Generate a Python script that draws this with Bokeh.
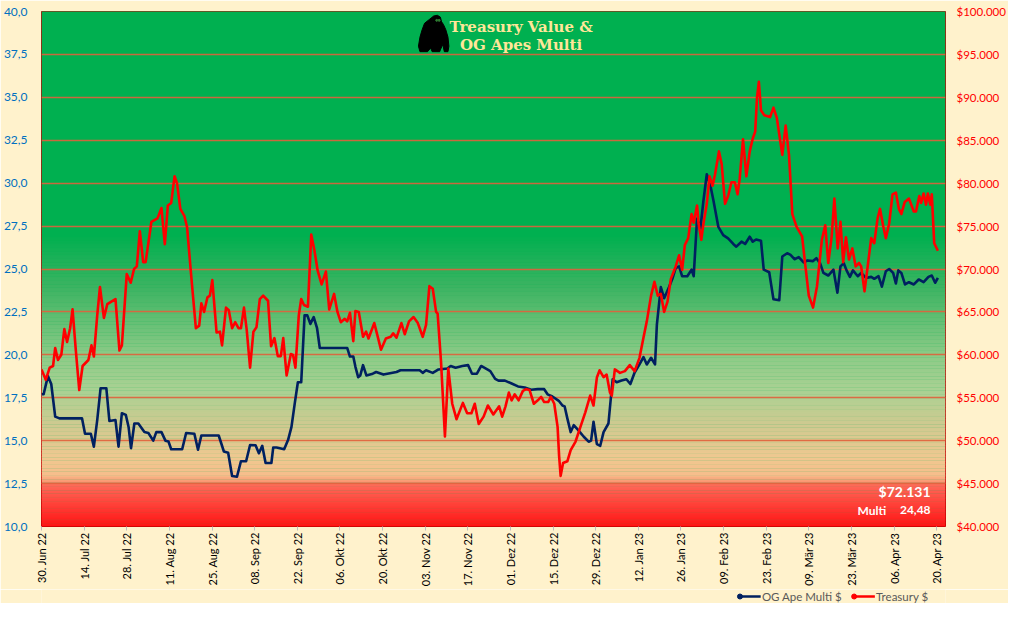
import numpy as np
from bokeh.plotting import figure
from bokeh.layouts import column
from bokeh.models import (Range1d, LinearAxis, FixedTicker, Label,
                          ColumnDataSource)
from bokeh.core.properties import value
from bokeh.embed import file_html
from bokeh.resources import INLINE

# ---------------- data ----------------
# x = days since 30 Jun 2022
tick_days = [0, 14, 28, 42, 56, 70, 84, 98, 112, 126, 140, 154, 168, 182,
             196, 210, 224, 238, 252, 266, 280, 294]
tick_labels = ["30. Jun 22", "14. Jul 22", "28. Jul 22", "11. Aug 22",
               "25. Aug 22", "08. Sep 22", "22. Sep 22", "06. Okt 22",
               "20. Okt 22", "03. Nov 22", "17. Nov 22", "01. Dez 22",
               "15. Dez 22", "29. Dez 22", "12. Jan 23", "26. Jan 23",
               "09. Feb 23", "23. Feb 23", "09. Mär 23", "23. Mär 23",
               "06. Apr 23", "20. Apr 23"]

series_names = ["OG Ape Multi $", "Treasury $"]

multi_day = [0, 0.7, 2.1, 3.2, 4.5, 5.9, 13.3, 14.3, 16.2, 17.2, 18.3, 19.4,
             21.3, 22.3, 24.3, 25.3, 26.4, 27.7, 28.6, 29.4, 30.5, 31.8, 33.8,
             35.1, 36.7, 37.7, 39.4, 40.7, 41.7, 42.6, 46.2, 47.5, 50.2, 51.4,
             52.5, 58.2, 59.9, 61.3, 62.6, 64.2, 65.5, 67.2, 68.5, 70.3, 71.4,
             72.5, 73.6, 75.5, 76.1, 77.2, 79.7, 81.0, 82.1, 83.2, 84.2, 85.3,
             86.4, 87.3, 88.3, 89.4, 90.5, 91.4, 100.4, 101.3, 102.4, 103.1,
             104.0, 104.7, 105.6, 106.7, 108.8, 109.9, 112.3, 116.6, 117.9,
             124.2, 125.2, 126.3, 128.5, 130.4, 133.3, 134.4, 136.0, 138.2,
             140.1, 141.4, 143.0, 144.4, 147.4, 149.0, 150.1, 152.2, 154.4,
             156.5, 158.7, 160.8, 163.0, 165.1, 166.2, 167.8, 170.0, 171.1,
             171.8, 172.7, 173.8, 174.8, 176.5, 178.1, 179.7, 180.5, 181.3,
             182.4, 183.5, 184.6, 186.2, 187.0, 187.6, 188.9, 190.5, 192.1,
             193.4, 194.8, 196.4, 197.7, 198.8, 200.2, 201.5, 202.1, 203.4,
             204.5, 206.1, 207.2, 208.3, 209.4, 210.4, 212.1, 213.5, 214.2,
             215.3, 216.4, 217.4, 218.5, 219.6, 220.7, 222.3, 223.9, 225.5,
             227.2, 228.2, 229.9, 231.1, 232.6, 233.6, 234.7, 236.3, 237.2,
             239.0, 240.4, 242.3, 243.3, 244.9, 246.0, 247.3, 248.7, 250.3,
             251.6, 253.4, 254.5, 255.7, 256.8, 258.4, 260.1, 261.4, 262.4,
             263.5, 264.4, 265.5, 266.5, 268.1, 269.2, 270.8, 272.5, 273.5,
             274.9, 276.0, 277.3, 278.4, 279.7, 280.6, 281.4, 282.4, 283.6,
             284.9, 286.5, 288.1, 289.7, 291.3, 292.4, 293.5, 294.4]
multi_val = [17.7, 17.7, 18.76, 18.3, 16.4, 16.3, 16.3, 15.4, 15.4, 14.65, 16.2,
             18.05, 18.05, 16.15, 16.2, 14.65, 16.6, 16.5, 15.8, 14.56, 16.0,
             16.0, 15.5, 15.45, 15.0, 15.5, 15.5, 15.0, 14.95, 14.5, 14.5,
             15.45, 15.4, 14.47, 15.3, 15.3, 14.37, 14.3, 12.94, 12.9, 13.8,
             13.8, 14.75, 14.73, 14.27, 14.7, 13.7, 13.7, 14.6, 14.6, 14.5,
             15.05, 15.8, 17.2, 18.4, 18.4, 22.3, 22.3, 21.8, 22.2, 21.55,
             20.4, 20.4, 19.9, 19.9, 19.3, 18.7, 18.8, 19.4, 18.8, 18.9, 19.0,
             18.85, 19.0, 19.1, 19.1, 18.95, 19.1, 18.95, 19.15, 19.2, 19.35,
             19.25, 19.35, 19.4, 18.9, 18.9, 19.35, 19.05, 18.6, 18.5, 18.5,
             18.33, 18.16, 18.1, 17.97, 18.0, 18.0, 17.7, 17.57, 17.3, 17.05,
             17.0, 16.3, 15.5, 15.9, 15.57, 15.23, 14.94, 15.0, 16.1, 14.8,
             14.7, 15.5, 16.0, 17.5, 18.58, 18.4, 18.5, 18.58, 18.3, 18.97,
             19.44, 19.87, 19.44, 19.83, 19.44, 21.74, 23.95, 23.3, 23.95,
             24.43, 25.06, 25.15, 24.58, 24.58, 24.96, 24.58, 27.93, 27.36,
             28.98, 30.52, 29.94, 28.98, 27.45, 26.97, 26.78, 26.46, 26.3,
             26.59, 26.46, 26.88, 26.59, 26.72, 26.65, 24.96, 24.81, 23.24,
             23.18, 25.73, 25.92, 25.82, 25.57, 25.69, 25.38, 25.5, 25.46,
             25.63, 25.34, 24.77, 24.62, 24.96, 23.62, 25.15, 25.34, 24.92,
             24.54, 24.92, 24.58, 24.77, 24.48, 24.54, 24.43, 24.58, 23.97,
             24.87, 25.0, 24.77, 24.16, 24.92, 24.77, 24.1, 24.23, 24.1, 24.39,
             24.23, 24.54, 24.62, 24.2, 24.48]

treasury_day = [0, 1.4, 2.7, 3.8, 4.5, 5.4, 6.5, 7.5, 8.4, 9.4, 10.2, 11.3,
                12.4, 13.5, 15.4, 16.4, 17.2, 18.3, 19.2, 20.5, 21.6, 24.3,
                25.6, 26.4, 28.0, 29.3, 30.4, 31.3, 32.3, 33.4, 34.2, 36.1,
                38.1, 39.4, 40.5, 41.5, 42.6, 43.7, 44.5, 45.6, 46.9, 47.8,
                49.1, 50.7, 51.8, 52.5, 53.4, 54.5, 55.3, 56.1, 57.5, 58.6,
                59.3, 60.6, 61.5, 62.6, 63.6, 64.7, 65.5, 66.5, 67.4, 68.5,
                69.6, 70.6, 71.7, 72.8, 74.4, 75.4, 76.5, 77.6, 78.6, 79.4,
                80.5, 81.9, 82.6, 83.4, 84.5, 85.3, 86.2, 87.5, 88.6, 89.6,
                90.7, 92.0, 93.4, 94.5, 96.1, 97.2, 98.3, 99.6, 100.4, 101.3,
                102.4, 103.1, 104.2, 105.6, 106.6, 107.4, 109.3, 110.3, 111.5,
                113.1, 114.7, 115.5, 116.6, 118.2, 119.3, 120.7, 122.2, 123.6,
                125.2, 126.3, 127.4, 128.5, 129.6, 130.1, 131.2, 132.5, 133.6,
                134.9, 136.3, 138.4, 139.8, 141.2, 142.3, 143.6, 145.2, 146.6,
                148.4, 150.3, 151.3, 152.4, 153.5, 154.4, 155.4, 156.7, 158.1,
                159.2, 160.3, 161.7, 163.0, 164.1, 165.1, 166.4, 167.3, 168.4,
                169.5, 170.0, 170.5, 171.3, 172.7, 173.8, 175.4, 177.0, 178.6,
                180.2, 181.3, 182.4, 183.3, 184.6, 185.6, 186.7, 187.3, 188.3,
                190.0, 191.6, 193.2, 194.8, 196.4, 197.7, 198.8, 200.2, 201.3,
                202.4, 203.4, 204.5, 205.6, 206.7, 208.3, 209.4, 210.4, 211.3,
                212.4, 213.5, 214.2, 215.3, 215.8, 216.7, 217.4, 218.5, 219.4,
                220.4, 221.2, 222.5, 223.4, 224.5, 225.5, 226.6, 227.7, 228.6,
                229.3, 230.4, 231.5, 232.6, 233.6, 234.4, 235.0, 235.6, 236.3,
                237.4, 239.3, 240.4, 241.5, 243.3, 244.4, 245.5, 246.6, 248.0,
                249.8, 250.9, 252.0, 253.4, 254.7, 256.3, 257.4, 258.4, 259.5,
                260.4, 261.5, 262.4, 263.3, 264.2, 265.2, 266.3, 267.4, 268.5,
                269.2, 270.3, 271.2, 272.5, 273.5, 274.6, 275.4, 276.5, 277.3,
                278.4, 279.5, 280.6, 281.6, 282.4, 283.5, 284.9, 286.5, 287.2,
                288.3, 288.9, 289.7, 290.5, 291.1, 291.9, 292.4, 293.2, 294.4]
treasury_val = [58300, 57100, 58500, 58700, 60800, 59400, 60000, 63000, 61500,
                63100, 65300, 60400, 55900, 58700, 59400, 61100, 59800, 64600,
                67900, 64300, 65900, 66500, 60500, 61100, 69400, 68400, 70000,
                70300, 74400, 70800, 70800, 75500, 75900, 77100, 72900, 77400,
                77700, 80800, 80000, 77000, 76200, 74900, 69500, 63100, 63400,
                66000, 65000, 66700, 66900, 68700, 62600, 62700, 61100, 65500,
                65200, 63100, 63800, 63100, 63100, 65500, 62900, 58500, 62700,
                63200, 66500, 66900, 66300, 61000, 61950, 59850, 59850, 61950,
                57600, 60100, 60000, 58500, 64600, 66500, 65800, 65600, 74000,
                72250, 69800, 68200, 69700, 65300, 67100, 65000, 63800, 64200,
                63900, 64900, 61600, 65100, 65000, 62100, 62700, 61900, 63700,
                62300, 60600, 61900, 62100, 62500, 62000, 63700, 62400, 63900,
                64400, 63700, 62100, 63500, 68000, 67700, 65000, 64800, 59300,
                50500, 58400, 54300, 52500, 54400, 53200, 53200, 54300, 51950,
                52800, 54100, 53050, 54000, 52800, 54000, 55600, 54700, 55400,
                54700, 55800, 56000, 55900, 54300, 54700, 55100, 54500, 54500,
                55100, 54300, 51600, 48200, 45900, 47400, 47600, 48900, 49900,
                51600, 53300, 55250, 54100, 57350, 58200, 57400, 57700, 55600,
                55250, 58300, 57900, 58100, 58800, 58100, 59650, 62000, 63900,
                66900, 68500, 66900, 67100, 65000, 66200, 68850, 70300, 71600,
                69900, 72800, 73600, 76400, 75400, 77400, 75300, 73400, 75300,
                77600, 80800, 79700, 81000, 83700, 82200, 77600, 78500, 80100,
                80100, 78700, 80500, 85100, 80800, 83700, 85200, 86000, 90000,
                91800, 88500, 87900, 87700, 88800, 87600, 83300, 86700, 83300,
                76400, 74900, 73800, 70300, 66900, 65500, 68000, 73400, 75100,
                70700, 73750, 78200, 72400, 75500, 70800, 73700, 71100, 72400,
                70300, 70700, 70300, 67400, 69900, 73600, 73000, 75900, 77000,
                74900, 73600, 75300, 78700, 78900, 77000, 76400, 77800, 78200,
                76700, 76700, 78500, 77700, 78800, 77500, 78800, 77500, 78700,
                73000, 72131]

left_ticks = [10.0, 12.5, 15.0, 17.5, 20.0, 22.5, 25.0, 27.5, 30.0, 32.5,
              35.0, 37.5, 40.0]
right_ticks = [40000, 45000, 50000, 55000, 60000, 65000, 70000, 75000, 80000,
               85000, 90000, 95000, 100000]

# ---------------- styles ----------------
BG = "#FFF2CC"
NAVY = "#002060"
RED = "#FF0000"
FONT = "Lato"
XMAX = 296.9
xr = Range1d(0, XMAX)

p = figure(width=1008, height=589, x_range=xr,
           y_range=Range1d(10, 40), output_backend="svg",
           toolbar_location=None, min_border_left=40, min_border_right=52,
           min_border_top=11, min_border_bottom=54,
           border_fill_color=BG, background_fill_color="#00B050",
           outline_line_color="#C00000", outline_line_width=1)
p.extra_y_ranges = {"tr": Range1d(40000, 100000)}

# vertical gradient background (green top -> red bottom)
stops_v = [10.0, 12.4, 12.6, 13.0, 14.0, 16.0, 17.8, 20.0, 24.0, 27.0, 40.0]
stops_c = [(255, 20, 20), (255, 104, 88), (250, 150, 114), (247, 190, 140),
           (240, 200, 144), (206, 202, 144), (172, 210, 148), (140, 203, 135),
           (60, 180, 98), (0, 176, 80), (0, 176, 80)]
step = 0.08
ys = np.arange(10.0, 40.0, step)
mids = ys + step / 2
cols = []
for m in mids:
    r = np.interp(m, stops_v, [c[0] for c in stops_c])
    g = np.interp(m, stops_v, [c[1] for c in stops_c])
    b = np.interp(m, stops_v, [c[2] for c in stops_c])
    cols.append("#%02x%02x%02x" % (int(r), int(g), int(b)))
grad = ColumnDataSource(dict(bottom=ys, top=ys + step * 1.3,
                             left=[0] * len(ys), right=[XMAX] * len(ys),
                             color=cols))
gr = p.quad(left="left", right="right", bottom="bottom", top="top",
            color="color", line_color=None, source=grad)
gr.level = "image"

# grid
p.xgrid.visible = False
p.ygrid.ticker = FixedTicker(ticks=left_ticks)
p.ygrid.grid_line_color = "#E0603C"
p.ygrid.grid_line_width = 1.3
p.ygrid.grid_line_alpha = 0.9

# axes
la = p.yaxis[0]
la.ticker = FixedTicker(ticks=left_ticks)
la.major_label_overrides = {t: ("%.1f" % t).replace(".", ",") for t in left_ticks}
la.axis_line_color = None
la.major_tick_line_color = None
la.minor_tick_line_color = None
la.major_label_text_color = "#0070C0"
la.major_label_text_font = FONT
la.major_label_text_font_size = "12px"
la.major_label_standoff = 8

ra = LinearAxis(y_range_name="tr")
ra.ticker = FixedTicker(ticks=right_ticks)
ra.major_label_overrides = {t: "$" + format(t, ",").replace(",", ".") for t in right_ticks}
ra.axis_line_color = None
ra.major_tick_line_color = None
ra.minor_tick_line_color = None
ra.major_label_text_color = RED
ra.major_label_text_font = FONT
ra.major_label_text_font_size = "11.5px"
ra.major_label_standoff = 5
p.add_layout(ra, "right")

xa = p.xaxis[0]
xa.ticker = FixedTicker(ticks=tick_days)
xa.major_label_overrides = dict(zip(tick_days, tick_labels))
xa.major_label_orientation = np.pi / 2
xa.axis_line_color = None
xa.major_tick_line_color = "#BFBFBF"
xa.major_tick_out = 4
xa.major_tick_in = 0
xa.minor_tick_line_color = None
xa.major_label_text_color = "#000000"
xa.major_label_text_font = FONT
xa.major_label_text_font_size = "11px"
xa.major_label_standoff = 2

# series
p.line(multi_day, multi_val, line_color=NAVY, line_width=2.6,
       line_join="round")
p.line(treasury_day, treasury_val, line_color=RED, line_width=2.6,
       line_join="round", y_range_name="tr")

# title
for txt, yy in [("Treasury Value &", 39.1), ("OG Apes Multi", 38.05)]:
    p.add_layout(Label(x=157.5, y=yy, text=txt, text_align="center",
                       text_baseline="middle", text_color="#FFE699",
                       text_font="DejaVu Serif", text_font_style="bold",
                       text_font_size="15px"))

# gorilla icon (decorative silhouette)
icon_u = [0.35, 0.5, 0.62, 0.72, 0.76, 0.82, 0.9, 0.97, 1.0, 0.97, 0.85, 0.8,
          0.72, 0.7, 0.45, 0.4, 0.3, 0.05, 0.0, 0.05, 0.12, 0.2]
icon_v = [0.12, 0.02, 0.0, 0.05, 0.18, 0.25, 0.4, 0.6, 0.85, 1.0, 1.0, 0.8,
          0.95, 1.0, 1.0, 0.9, 1.0, 1.0, 0.85, 0.6, 0.4, 0.22]
ix0, ix1, iy0, iy1 = 123.8, 133.8, 39.78, 37.66
p.patch([ix0 + u * (ix1 - ix0) for u in icon_u],
        [iy0 - v * (iy0 - iy1) for v in icon_v],
        fill_color="#000000", line_color="#000000")
p.scatter([ix0 + 0.6 * (ix1 - ix0), ix0 + 0.68 * (ix1 - ix0)],
          [iy0 - 0.14 * (iy0 - iy1)] * 2, size=2, color="#2E7D32")

# latest values annotations
last_t = treasury_val[-1]
last_m = multi_val[-1]
p.add_layout(Label(x=292.0, y=12.05, text="$" + format(last_t, ",").replace(",", "."),
                   text_align="right", text_baseline="middle",
                   text_color="white", text_font=FONT,
                   text_font_style="bold", text_font_size="14px"))
p.add_layout(Label(x=268.0, y=10.95, text="Multi", text_align="left",
                   text_baseline="middle", text_color="white",
                   text_font=FONT, text_font_style="bold",
                   text_font_size="12px"))
p.add_layout(Label(x=292.0, y=10.95, text=("%.2f" % last_m).replace(".", ","),
                   text_align="right", text_baseline="middle",
                   text_color="white", text_font=FONT,
                   text_font_style="bold", text_font_size="12px"))

# ---------------- legend strip (below chart, shares the x scale) ----------
leg = figure(width=1008, height=14, x_range=xr, y_range=Range1d(0, 14),
             output_backend="svg", toolbar_location=None,
             min_border_left=40, min_border_right=52, min_border_top=0,
             min_border_bottom=0, border_fill_color=BG,
             background_fill_color=BG, outline_line_color=None)
leg.axis.visible = False
leg.grid.visible = False
leg_x0 = [229.0, 266.5]   # legend entry start (in day units of the x scale)
leg_col = [NAVY, RED]
for x0, c, name in zip(leg_x0, leg_col, series_names):
    leg.segment(x0=[x0], y0=[7], x1=[x0 + 7.2], y1=[7], line_color=c,
                line_width=2.6)
    leg.scatter([x0 + 0.4], [7], size=5, color=c)
    leg.text([x0 + 7.6], [7], text=[name], text_color="#595959",
             text_font=value(FONT), text_font_size="11.5px",
             text_baseline="middle", text_align="left")

open("out.html", "w").write(file_html(column(p, leg, spacing=0), INLINE))
